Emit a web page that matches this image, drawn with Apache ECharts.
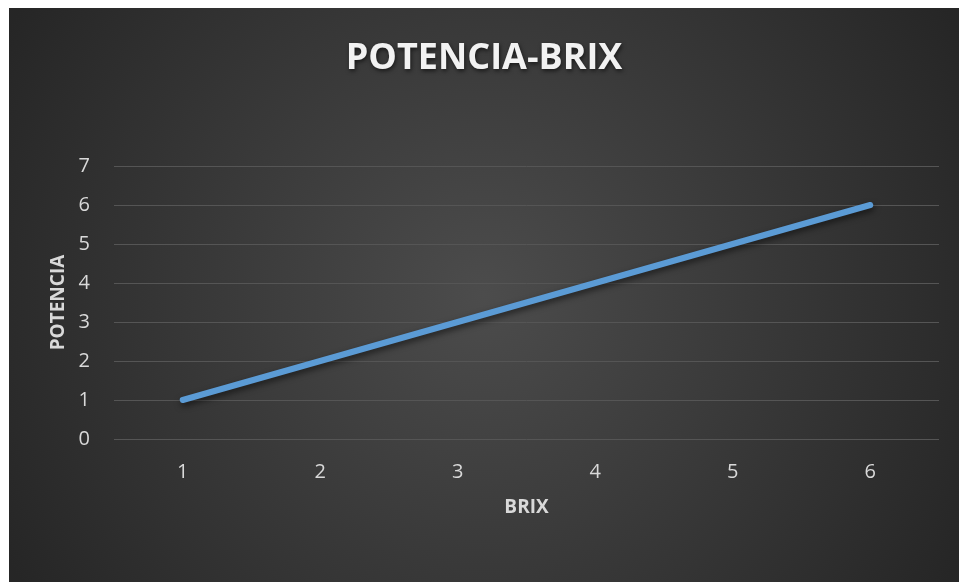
<!DOCTYPE html>
<html>
<head>
<meta charset="utf-8">
<script src="https://cdn.jsdelivr.net/npm/echarts@6/dist/echarts.min.js"></script>
<style>
  html, body { margin: 0; padding: 0; background: #ffffff; }
  #chart { position: absolute; left: 9px; top: 8px; width: 950px; height: 574px; }
</style>
</head>
<body>
<div id="chart"></div>
<script>
// BRIX readings on the category axis, POTENCIA values plotted against them
const brix = ['1', '2', '3', '4', '5', '6'];
const potencia = [1, 2, 3, 4, 5, 6];
const yTicks = { min: 0, max: 7, interval: 1 };

const chart = echarts.init(document.getElementById('chart'));

const labelColor = '#d9d9d9';
const font = '"Open Sans", "Liberation Sans", sans-serif';

chart.setOption({
  backgroundColor: {
    type: 'radial', x: 0.5, y: 0.5, r: 0.95,
    colorStops: [
      { offset: 0, color: '#4c4c4c' },
      { offset: 1, color: '#262626' }
    ]
  },
  title: {
    text: 'POTENCIA-BRIX',
    left: 'center',
    top: 28,
    textStyle: {
      color: '#f2f2f2',
      fontFamily: font,
      fontWeight: 'bold',
      fontSize: 36,
      textShadowColor: 'rgba(0,0,0,0.6)',
      textShadowBlur: 4,
      textShadowOffsetX: 1,
      textShadowOffsetY: 2
    }
  },
  grid: { left: 105, right: 20, top: 158, bottom: 143, containLabel: false },
  xAxis: {
    type: 'category',
    data: brix,
    boundaryGap: true,
    name: 'BRIX',
    nameLocation: 'middle',
    nameGap: 59,
    nameTextStyle: { color: labelColor, fontFamily: font, fontWeight: 'bold', fontSize: 19 },
    axisLine: { show: false },
    axisTick: { show: false },
    axisLabel: { color: labelColor, fontFamily: font, fontSize: 20, margin: 23 }
  },
  yAxis: {
    type: 'value',
    min: yTicks.min,
    max: yTicks.max,
    interval: yTicks.interval,
    name: 'POTENCIA',
    nameLocation: 'middle',
    nameGap: 46,
    nameRotate: 90,
    nameTextStyle: { color: labelColor, fontFamily: font, fontWeight: 'bold', fontSize: 19 },
    axisLine: { show: false },
    axisTick: { show: false },
    axisLabel: { color: labelColor, fontFamily: font, fontSize: 20, margin: 24 },
    splitLine: { lineStyle: { color: '#555555', width: 1 } }
  },
  series: [{
    type: 'line',
    data: potencia,
    showSymbol: false,
    symbol: 'none',
    lineStyle: {
      color: '#5b9bd5',
      width: 6,
      cap: 'round',
      shadowColor: 'rgba(0,0,0,0.55)',
      shadowBlur: 6,
      shadowOffsetX: 1,
      shadowOffsetY: 3
    },
    animation: false
  }],
  animation: false
});
</script>
</body>
</html>
